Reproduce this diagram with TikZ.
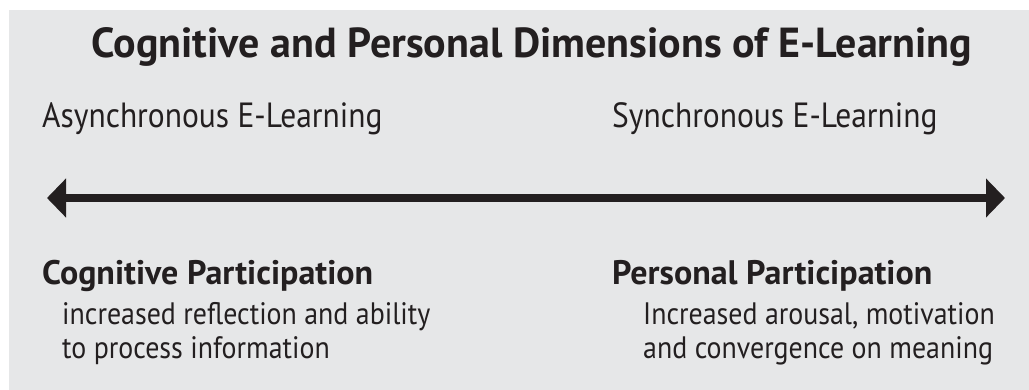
\documentclass[tikz,border=0pt]{standalone}
\usepackage{fontspec}
\setmainfont{PT Sans}
\newfontfamily\narrowfont[FakeStretch=0.9]{PT Sans}
\usetikzlibrary{arrows.meta}
\definecolor{panelgray}{HTML}{E6E7E8}
\definecolor{inkgray}{HTML}{231F20}

\begin{document}
\begin{tikzpicture}[x=1pt,y=-1pt,
    heading/.style={anchor=base west,inner sep=0pt,text=inkgray,font=\narrowfont\fontsize{35}{40}\selectfont},
    part/.style={anchor=base west,inner sep=0pt,text=inkgray,font=\bfseries\fontsize{34}{40}\selectfont},
    detail/.style={anchor=base west,inner sep=0pt,text=inkgray,font=\narrowfont\fontsize{31}{36}\selectfont}]
  \useasboundingbox (0,0) rectangle (1029,390);
  \fill[panelgray] (9,10) rectangle (1029,390);
  \node[anchor=base,inner sep=0pt,text=inkgray,font=\bfseries\fontsize{42}{46}\selectfont] (title) at (532,58)
    {Cognitive and Personal Dimensions of E-Learning};
  \node[heading] (async) at (42,128) {Asynchronous E-Learning};
  \node[heading] (sync) at (612,128) {Synchronous E-Learning};
  \coordinate (leftend) at (47,198);
  \coordinate (rightend) at (1005,198);
  \draw[line width=8pt,inkgray,{Triangle[length=19pt,width=38pt]}-{Triangle[length=19pt,width=38pt]}] (leftend) -- (rightend);
  \node[part] (cogn) at (42,285) {Cognitive Participation};
  \node[detail] (cogn1) at (62,325) {increased reflection and ability};
  \node[detail] (cogn2) at (62,359) {to process information};
  \node[part] (pers) at (612,285) {Personal Participation};
  \node[detail] (pers1) at (643,325) {Increased arousal, motivation};
  \node[detail] (pers2) at (643,359) {and convergence on meaning};
\end{tikzpicture}
\end{document}
